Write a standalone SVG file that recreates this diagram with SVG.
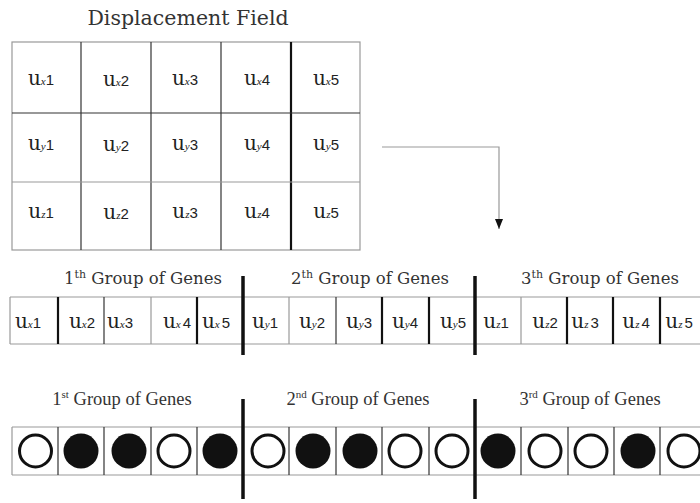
<svg xmlns="http://www.w3.org/2000/svg" width="700" height="503" viewBox="0 0 700 503">
<defs>
<style>
.t{font-family:"DejaVu Serif","Liberation Serif",serif;fill:#333}
.u{font-family:"DejaVu Serif",serif;font-size:20px;fill:#222}
.s{font-family:"Liberation Serif",serif;font-style:italic;font-size:11px}
.n{font-family:"Liberation Sans",sans-serif;font-size:15px}
.g{font-family:"DejaVu Serif",serif;font-size:16.5px;fill:#333}
.lg{font-family:"Liberation Serif",serif;font-size:18.5px;fill:#333}
.sup{font-size:11px}
.gray{stroke:#999;stroke-width:1.2;fill:none}
.dk{stroke:#333;stroke-width:1.2}
.thk{stroke:#111;stroke-width:2.2}
.sep{stroke:#111;stroke-width:3.5}
.open{fill:#fff;stroke:#111;stroke-width:3}
.fill{fill:#111}
</style>
<marker id="ah" markerWidth="10" markerHeight="8" refX="10" refY="4" orient="auto" markerUnits="userSpaceOnUse" viewBox="0 0 10 8">
<path d="M0,0 L10,4 L0,8 Z" fill="#111"/>
</marker>
</defs>
<rect width="700" height="503" fill="#fff"/>

<g id="displacement-field">
<text class="t" x="188" y="25" text-anchor="middle" font-size="20.5">Displacement Field</text>
<rect x="12" y="42" width="348" height="208" class="gray"/>
<line x1="81" y1="42" x2="81" y2="250" class="dk"/>
<line x1="151" y1="42" x2="151" y2="250" class="dk"/>
<line x1="221" y1="42" x2="221" y2="250" class="dk"/>
<line x1="291" y1="42" x2="291" y2="250" class="thk"/>
<line x1="12" y1="113" x2="360" y2="113" class="dk"/>
<line x1="12" y1="182" x2="360" y2="182" class="gray"/>
<g>
<text class="u" x="41" y="85" text-anchor="middle">u<tspan class="s">x</tspan><tspan class="n">1</tspan></text>
<text class="u" x="116" y="86" text-anchor="middle">u<tspan class="s">x</tspan><tspan class="n">2</tspan></text>
<text class="u" x="185" y="85" text-anchor="middle">u<tspan class="s">x</tspan><tspan class="n">3</tspan></text>
<text class="u" x="257" y="85" text-anchor="middle">u<tspan class="s">x</tspan><tspan class="n">4</tspan></text>
<text class="u" x="326" y="85" text-anchor="middle">u<tspan class="s">x</tspan><tspan class="n">5</tspan></text>
<text class="u" x="41" y="150" text-anchor="middle">u<tspan class="s">y</tspan><tspan class="n">1</tspan></text>
<text class="u" x="116" y="151" text-anchor="middle">u<tspan class="s">y</tspan><tspan class="n">2</tspan></text>
<text class="u" x="185" y="150" text-anchor="middle">u<tspan class="s">y</tspan><tspan class="n">3</tspan></text>
<text class="u" x="257" y="150" text-anchor="middle">u<tspan class="s">y</tspan><tspan class="n">4</tspan></text>
<text class="u" x="326" y="150" text-anchor="middle">u<tspan class="s">y</tspan><tspan class="n">5</tspan></text>
<text class="u" x="41" y="218" text-anchor="middle">u<tspan class="s">z</tspan><tspan class="n">1</tspan></text>
<text class="u" x="116" y="219" text-anchor="middle">u<tspan class="s">z</tspan><tspan class="n">2</tspan></text>
<text class="u" x="185" y="218" text-anchor="middle">u<tspan class="s">z</tspan><tspan class="n">3</tspan></text>
<text class="u" x="257" y="218" text-anchor="middle">u<tspan class="s">z</tspan><tspan class="n">4</tspan></text>
<text class="u" x="326" y="218" text-anchor="middle">u<tspan class="s">z</tspan><tspan class="n">5</tspan></text>
</g>
</g>

<g id="connectors">
<polyline points="382,147 499,147 499,229" fill="none" stroke="#999" stroke-width="1.2" marker-end="url(#ah)"/>
</g>

<g id="gene-groups">
<text class="g" x="143" y="284" text-anchor="middle">1<tspan class="sup" dy="-6">th</tspan><tspan dy="6"> Group of Genes</tspan></text>
<text class="g" x="370" y="284" text-anchor="middle">2<tspan class="sup" dy="-6">th</tspan><tspan dy="6"> Group of Genes</tspan></text>
<text class="g" x="600" y="284" text-anchor="middle">3<tspan class="sup" dy="-6">th</tspan><tspan dy="6"> Group of Genes</tspan></text>
<line x1="10" y1="297" x2="700" y2="297" class="gray"/>
<line x1="10" y1="344" x2="700" y2="344" class="gray"/>
<line x1="10" y1="297" x2="10" y2="344" class="gray"/>
<line x1="58" y1="297" x2="58" y2="344" class="thk"/>
<line x1="104" y1="297" x2="104" y2="344" class="dk"/>
<line x1="151" y1="297" x2="151" y2="344" class="gray"/>
<line x1="197" y1="297" x2="197" y2="344" class="thk"/>
<line x1="289" y1="297" x2="289" y2="344" class="gray"/>
<line x1="336" y1="297" x2="336" y2="344" class="dk"/>
<line x1="382" y1="297" x2="382" y2="344" class="thk"/>
<line x1="429" y1="297" x2="429" y2="344" class="thk"/>
<line x1="521" y1="297" x2="521" y2="344" class="gray"/>
<line x1="567" y1="297" x2="567" y2="344" class="thk"/>
<line x1="613" y1="297" x2="613" y2="344" class="thk"/>
<line x1="660" y1="297" x2="660" y2="344" class="thk"/>
<line x1="243" y1="276" x2="243" y2="355" class="sep"/>
<line x1="475" y1="276" x2="475" y2="355" class="sep"/>
<g>
<text class="u" x="28" y="328" text-anchor="middle">u<tspan class="s">x</tspan><tspan class="n">1</tspan></text>
<text class="u" x="82" y="328" text-anchor="middle">u<tspan class="s">x</tspan><tspan class="n">2</tspan></text>
<text class="u" x="120" y="328" text-anchor="middle">u<tspan class="s">x</tspan><tspan class="n">3</tspan></text>
<text class="u" x="177" y="328" text-anchor="middle">u<tspan class="s">x</tspan><tspan class="n" dx="2">4</tspan></text>
<text class="u" x="216" y="328" text-anchor="middle">u<tspan class="s">x</tspan><tspan class="n" dx="2">5</tspan></text>
<text class="u" x="265" y="328" text-anchor="middle">u<tspan class="s">y</tspan><tspan class="n">1</tspan></text>
<text class="u" x="312" y="328" text-anchor="middle">u<tspan class="s">y</tspan><tspan class="n">2</tspan></text>
<text class="u" x="359" y="328" text-anchor="middle">u<tspan class="s">y</tspan><tspan class="n">3</tspan></text>
<text class="u" x="405" y="328" text-anchor="middle">u<tspan class="s">y</tspan><tspan class="n">4</tspan></text>
<text class="u" x="453" y="328" text-anchor="middle">u<tspan class="s">y</tspan><tspan class="n">5</tspan></text>
<text class="u" x="496" y="328" text-anchor="middle">u<tspan class="s">z</tspan><tspan class="n">1</tspan></text>
<text class="u" x="545" y="328" text-anchor="middle">u<tspan class="s">z</tspan><tspan class="n">2</tspan></text>
<text class="u" x="585" y="328" text-anchor="middle">u<tspan class="s">z</tspan><tspan class="n" dx="2">3</tspan></text>
<text class="u" x="636" y="328" text-anchor="middle">u<tspan class="s">z</tspan><tspan class="n" dx="2">4</tspan></text>
<text class="u" x="679" y="328" text-anchor="middle">u<tspan class="s">z</tspan><tspan class="n" dx="2">5</tspan></text>
</g>
</g>

<g id="binary-genes">
<text class="lg" x="122" y="405" text-anchor="middle">1<tspan class="sup" dy="-7">st</tspan><tspan dy="7">  Group of Genes</tspan></text>
<text class="lg" x="358" y="405" text-anchor="middle">2<tspan class="sup" dy="-7">nd</tspan><tspan dy="7"> Group of Genes</tspan></text>
<text class="lg" x="590" y="405" text-anchor="middle">3<tspan class="sup" dy="-7">rd</tspan><tspan dy="7"> Group of Genes</tspan></text>
<line x1="12" y1="427" x2="700" y2="427" class="gray"/>
<line x1="12" y1="475" x2="700" y2="475" class="gray"/>
<line x1="12" y1="427" x2="12" y2="475" class="gray"/>
<line x1="58" y1="427" x2="58" y2="475" class="dk"/>
<line x1="104" y1="427" x2="104" y2="475" class="dk"/>
<line x1="151" y1="427" x2="151" y2="475" class="dk"/>
<line x1="197" y1="427" x2="197" y2="475" class="dk"/>
<line x1="289" y1="427" x2="289" y2="475" class="dk"/>
<line x1="336" y1="427" x2="336" y2="475" class="dk"/>
<line x1="382" y1="427" x2="382" y2="475" class="dk"/>
<line x1="429" y1="427" x2="429" y2="475" class="dk"/>
<line x1="521" y1="427" x2="521" y2="475" class="dk"/>
<line x1="568" y1="427" x2="568" y2="475" class="dk"/>
<line x1="614" y1="427" x2="614" y2="475" class="dk"/>
<line x1="660" y1="427" x2="660" y2="475" class="dk"/>
<line x1="243" y1="399" x2="243" y2="499" class="sep"/>
<line x1="475" y1="399" x2="475" y2="499" class="sep"/>
<circle cx="35.5" cy="451" r="16" class="open"/>
<circle cx="81" cy="451" r="17.5" class="fill"/>
<circle cx="129" cy="451" r="17.5" class="fill"/>
<circle cx="174" cy="451" r="16" class="open"/>
<circle cx="220" cy="451" r="17.5" class="fill"/>
<circle cx="268" cy="451" r="16" class="open"/>
<circle cx="313" cy="451" r="17.5" class="fill"/>
<circle cx="360" cy="451" r="17.5" class="fill"/>
<circle cx="405" cy="451" r="16" class="open"/>
<circle cx="452" cy="451" r="16" class="open"/>
<circle cx="498" cy="451" r="17.5" class="fill"/>
<circle cx="545" cy="451" r="16" class="open"/>
<circle cx="591" cy="451" r="16" class="open"/>
<circle cx="638" cy="451" r="17.5" class="fill"/>
<circle cx="684" cy="451" r="16" class="open"/>
</g>
</svg>
